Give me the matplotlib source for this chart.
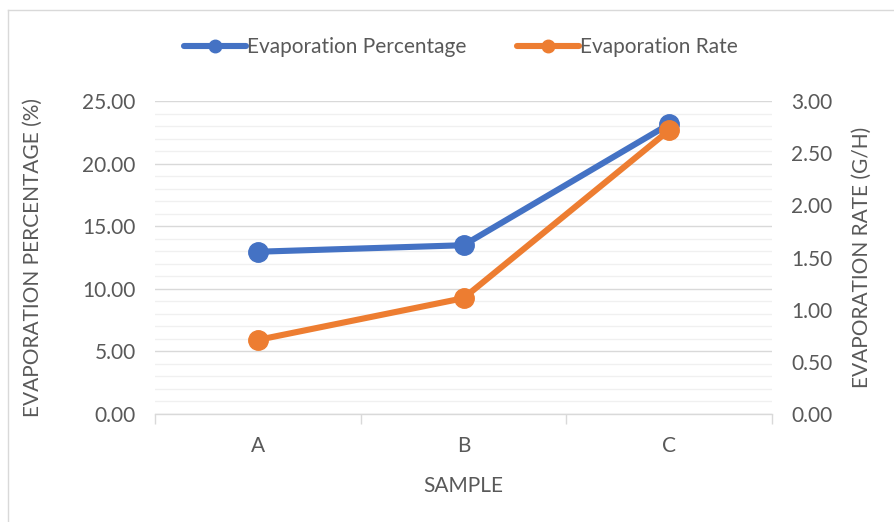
import matplotlib
matplotlib.use("Agg")
import matplotlib.pyplot as plt
from matplotlib.ticker import MultipleLocator, FormatStrFormatter
from matplotlib.lines import Line2D

categories = ["A", "B", "C"]
evap_pct = [12.96, 13.48, 23.15]
evap_rate = [0.71, 1.11, 2.72]

plt.rcParams['font.family'] = ['Lato', 'DejaVu Sans']
TXT = '#595959'
BLUE = '#4472C4'
ORANGE = '#ED7D31'
FS = 15

fig = plt.figure(figsize=(8.94, 5.22), dpi=100)
ax = fig.add_axes([155/894, 108/522, (772-155)/894, (414-101)/522])
ax2 = ax.twinx()

x = list(range(len(categories)))
ax.set_xlim(-0.5, 2.5)
ax.set_ylim(0, 25)
ax2.set_ylim(0, 3)

ax.yaxis.set_major_locator(MultipleLocator(5))
ax.yaxis.set_minor_locator(MultipleLocator(1))
ax.yaxis.set_major_formatter(FormatStrFormatter('%.2f'))
ax2.yaxis.set_major_locator(MultipleLocator(0.5))
ax2.yaxis.set_major_formatter(FormatStrFormatter('%.2f'))

ax.grid(True, which='minor', axis='y', color='#F0F0F0', lw=1.0)
ax.grid(True, which='major', axis='y', color='#D9D9D9', lw=1.0)
ax.set_axisbelow(True)

for a in (ax, ax2):
    for s in ('top', 'left', 'right'):
        a.spines[s].set_visible(False)
ax2.spines['bottom'].set_visible(False)
ax.spines['bottom'].set_color('#D9D9D9')
ax.spines['bottom'].set_linewidth(1.0)

ax.set_xticks(x)
ax.set_xticklabels(categories)
ax.set_xticks([-0.5, 0.5, 1.5, 2.5], minor=True)
ax.tick_params(axis='x', which='major', length=0, pad=16, labelsize=FS, labelcolor=TXT)
ax.tick_params(axis='x', which='minor', length=7, width=1, color='#D9D9D9', direction='out')
ax.tick_params(axis='y', which='both', length=0, pad=14, labelsize=FS, labelcolor=TXT)
ax2.tick_params(axis='y', which='both', length=0, pad=14, labelsize=FS, labelcolor=TXT)

l1, = ax.plot(x, evap_pct, color=BLUE, lw=4.4, marker='o', ms=14, zorder=3,
              solid_capstyle='round')
l2, = ax2.plot(x, evap_rate, color=ORANGE, lw=4.4, marker='o', ms=14, zorder=3,
               solid_capstyle='round')

ax.set_xlabel('SAMPLE', fontsize=FS, color=TXT, labelpad=14)
ax.set_ylabel('EVAPORATION PERCENTAGE (%)', fontsize=FS, color=TXT, labelpad=28)
ax2.set_ylabel('EVAPORATION RATE (G/H)', fontsize=FS, color=TXT, labelpad=14)

h1 = Line2D([], [], color=BLUE, lw=4.4, marker='o', ms=9, solid_capstyle='round')
h2 = Line2D([], [], color=ORANGE, lw=4.4, marker='o', ms=9, solid_capstyle='round')
leg = fig.legend([h1, h2], ['Evaporation Percentage', 'Evaporation Rate'],
                 loc='center', bbox_to_anchor=(461/894, 1 - 47/522), ncol=2,
                 frameon=False, fontsize=FS, handlelength=3.0, handletextpad=0.05,
                 columnspacing=2.4, labelcolor=TXT)

# chart area border (left and top edges visible)
fig.add_artist(Line2D([8/894, 8/894], [0, 1 - 10/522], color='#D9D9D9', lw=1,
                      transform=fig.transFigure))
fig.add_artist(Line2D([8/894, 1], [1 - 10/522, 1 - 10/522], color='#D9D9D9', lw=1,
                      transform=fig.transFigure))

fig.savefig('out.png', dpi=100)
